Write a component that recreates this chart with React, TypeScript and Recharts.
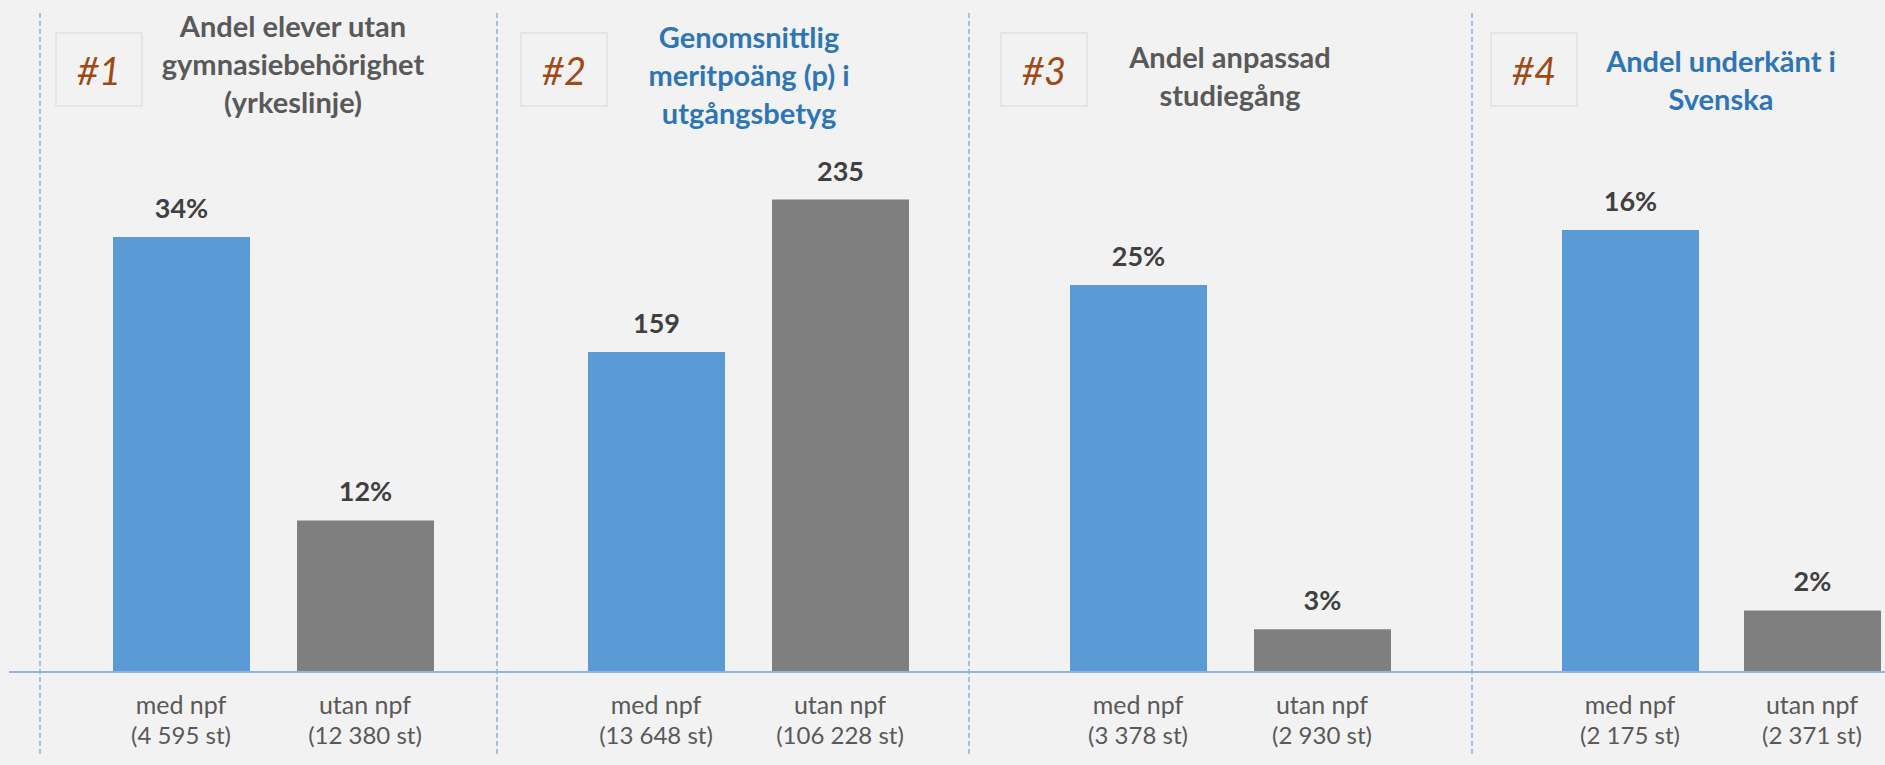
import React from 'react';
import { BarChart, Bar, XAxis, YAxis, LabelList, Cell } from 'recharts';

// ---- data ----
const categories = ['med npf', 'utan npf'];

const panel1Counts = ['(4 595 st)', '(12 380 st)'];
const panel2Counts = ['(13 648 st)', '(106 228 st)'];
const panel3Counts = ['(3 378 st)', '(2 930 st)'];
const panel4Counts = ['(2 175 st)', '(2 371 st)'];

const panel1Values = [34, 11.8];
const panel2Values = [159, 235];
const panel3Values = [25, 2.7];
const panel4Values = [16, 2.2];

const panel1Labels = ['34%', '12%'];
const panel2Labels = ['159', '235'];
const panel3Labels = ['25%', '3%'];
const panel4Labels = ['16%', '2%'];

const panelNumbers = ['#1', '#2', '#3', '#4'];
const panel1Title = ['Andel elever utan', 'gymnasiebehörighet', '(yrkeslinje)'];
const panel2Title = ['Genomsnittlig', 'meritpoäng (p) i', 'utgångsbetyg'];
const panel3Title = ['Andel anpassad', 'studiegång'];
const panel4Title = ['Andel underkänt i', 'Svenska'];

// ---- styles / layout ----
const W = 1885;
const H = 765;
const FONT = 'Lato, "Open Sans", sans-serif';
const BG = '#f2f2f2';
const BLUE = '#5b9bd5';
const GRAY = '#7f7f7f';
const BAR_COLORS = [BLUE, GRAY];
const TEXT_GRAY = '#595959';
const TITLE_BLUE = '#2e75b6';
const PLOT_TOP = 140;
const PLOT_BOTTOM = 671;

const panels = [
  { values: panel1Values, labels: panel1Labels, counts: panel1Counts, title: panel1Title,
    plotLeft: 88.5, plotWidth: 368, yMax: 41.6, titleX: 293, titleY: 37, titleColor: TEXT_GRAY, boxX: 56, divider: 40 },
  { values: panel2Values, labels: panel2Labels, counts: panel2Counts, title: panel2Title,
    plotLeft: 563.5, plotWidth: 368, yMax: 264.7, titleX: 749, titleY: 48, titleColor: TITLE_BLUE, boxX: 521, divider: 497 },
  { values: panel3Values, labels: panel3Labels, counts: panel3Counts, title: panel3Title,
    plotLeft: 1046, plotWidth: 368, yMax: 34.4, titleX: 1230, titleY: 68, titleColor: TEXT_GRAY, boxX: 1001, divider: 969 },
  { values: panel4Values, labels: panel4Labels, counts: panel4Counts, title: panel4Title,
    plotLeft: 1539, plotWidth: 364, yMax: 19.27, titleX: 1721, titleY: 72, titleColor: TITLE_BLUE, boxX: 1491, divider: 1472 },
];

function makeTick(counts: string[]) {
  return (props: any) => {
    const { x, y, payload, index } = props;
    return (
      <g>
        <text x={x} y={y + 43} textAnchor="middle" fill={TEXT_GRAY} fontSize={25} fontFamily={FONT}>
          {payload.value}
        </text>
        <text x={x} y={y + 73} textAnchor="middle" fill={TEXT_GRAY} fontSize={24} fontFamily={FONT}>
          {counts[index]}
        </text>
      </g>
    );
  };
}

function Panel({ p }: { p: any }) {
  const data = categories.map((c, i) => ({ name: c, value: p.values[i], label: p.labels[i] }));
  return (
    <div style={{ position: 'absolute', left: p.plotLeft, top: 0 }}>
      <BarChart width={p.plotWidth} height={H} data={data}
        margin={{ top: PLOT_TOP, right: 0, bottom: 0, left: 0 }}>
        <XAxis dataKey="name" axisLine={false} tickLine={false} tickSize={0} tickMargin={0}
          height={H - PLOT_BOTTOM} interval={0} tick={makeTick(p.counts)} />
        <YAxis hide width={0} domain={[0, p.yMax]} allowDataOverflow />
        <Bar dataKey="value" barSize={137} isAnimationActive={false}>
          {data.map((d, i) => (
            <Cell key={i} fill={BAR_COLORS[i]} />
          ))}
          <LabelList dataKey="label" position="top" offset={19} fill="#404040"
            fontSize={27} fontWeight={700} fontFamily={FONT} />
        </Bar>
      </BarChart>
    </div>
  );
}

export default function App() {
  return (
    <div style={{ position: 'absolute', left: 0, top: 0, width: W, height: H, overflow: 'hidden', background: BG, fontFamily: FONT }}>
      {panels.map((p, i) => <Panel key={i} p={p} />)}
      <svg width={W} height={H} style={{ position: 'absolute', left: 0, top: 0, pointerEvents: 'none' }}>
        <line x1={9} x2={W} y1={672} y2={672} stroke="#8db4e2" strokeWidth={2} />
        {panels.map((p, i) => (
          <g key={i}>
            <line x1={p.divider} x2={p.divider} y1={13} y2={757} stroke="#86b3df" strokeWidth={1.5} strokeDasharray="5 3" />
            <rect x={p.boxX} y={33} width={86} height={73} fill="none" stroke="#dcdcdc" strokeWidth={1.2} />
            <text x={p.boxX + 43} y={85} textAnchor="middle" fill="#9e4a17" fontSize={38}
              fontStyle="italic" fontFamily={FONT}>{panelNumbers[i]}</text>
            {p.title.map((t: string, j: number) => (
              <text key={j} x={p.titleX} y={p.titleY + j * 38} textAnchor="middle" fill={p.titleColor}
                fontSize={29} fontWeight={700} fontFamily={FONT}>{t}</text>
            ))}
          </g>
        ))}
      </svg>
    </div>
  );
}
